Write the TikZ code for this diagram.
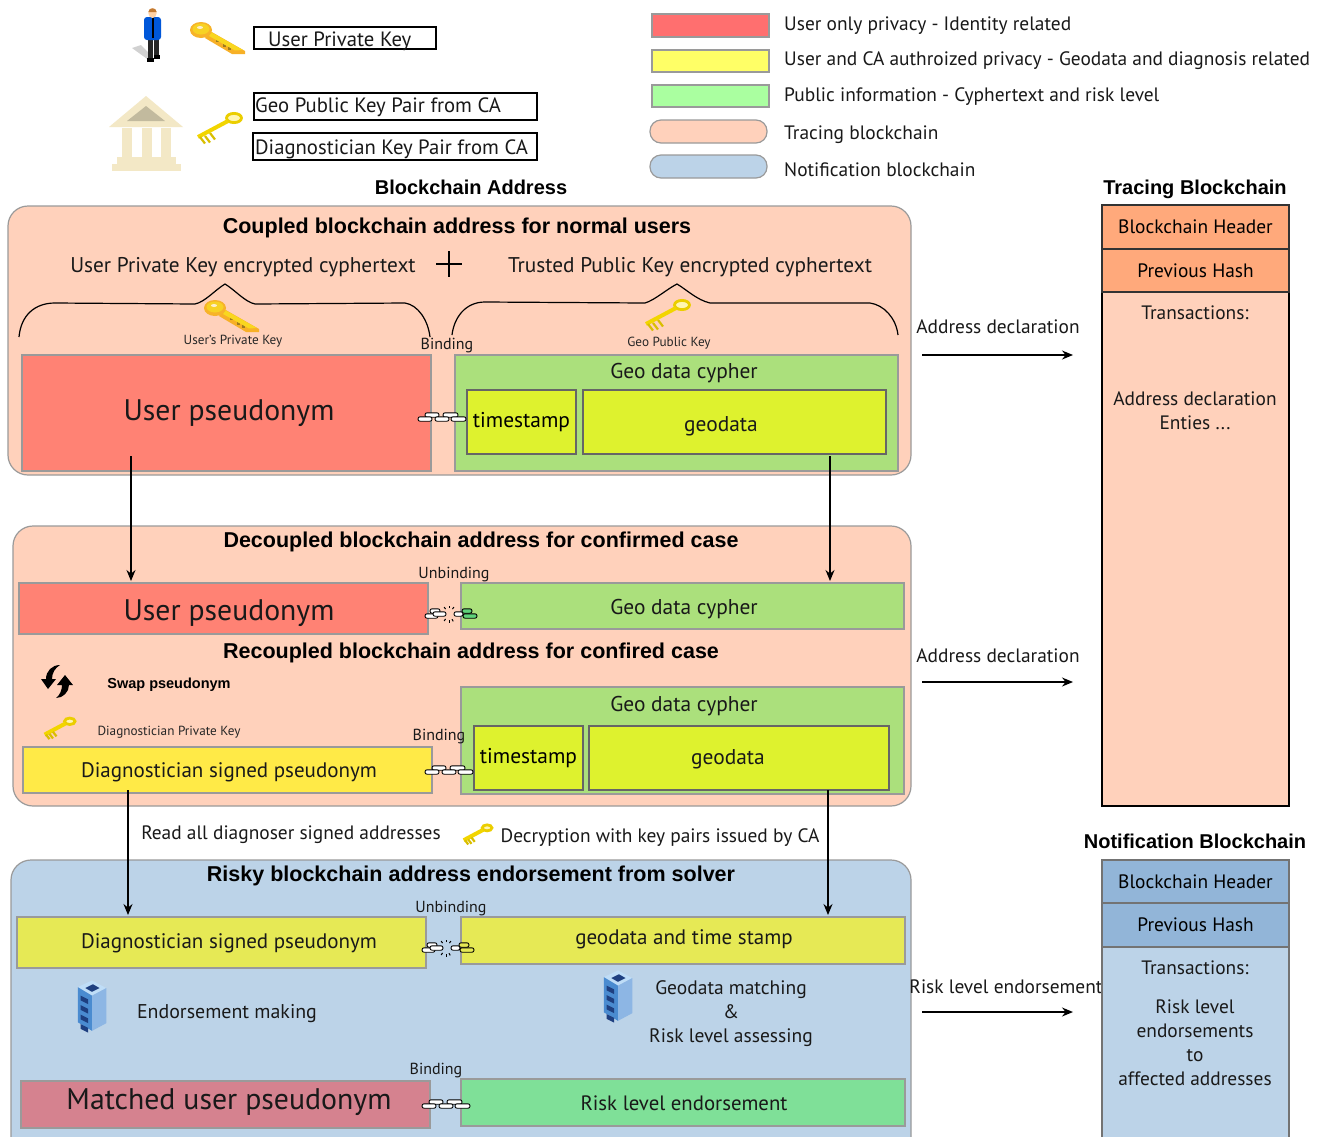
\documentclass[tikz,border=0pt]{standalone}
\usepackage{fontspec}
\setmainfont{PT Sans}
\newfontfamily\boldf{Liberation Sans Bold}
\usetikzlibrary{arrows.meta}
\definecolor{peach}{HTML}{FFD1BB}
\definecolor{panelblue}{HTML}{BCD3E8}
\definecolor{edgegray}{HTML}{9A9A9A}
\definecolor{redbox}{HTML}{FF8274}
\definecolor{greenbox}{HTML}{ABE07C}
\definecolor{limebox}{HTML}{DEF22E}
\definecolor{yellowbox}{HTML}{FFEA47}
\definecolor{paleolive}{HTML}{E6E955}
\definecolor{rose}{HTML}{D5828F}
\definecolor{mint}{HTML}{7FE098}
\definecolor{hdrorange}{HTML}{FFA97B}
\definecolor{hdrblue}{HTML}{92B5D8}
\definecolor{goldk}{HTML}{F5BC30}
\definecolor{yellowk}{HTML}{FFE000}
\definecolor{bankc}{HTML}{F3E8C6}
\definecolor{legred}{HTML}{FF6F6F}
\definecolor{legyellow}{HTML}{FFFF66}
\definecolor{leggreen}{HTML}{AAFFA0}
\definecolor{chaingreen}{HTML}{5FD27A}
\definecolor{srvtop}{HTML}{BFDDF7}
\definecolor{srvleft}{HTML}{4A8BD0}
\definecolor{srvright}{HTML}{8DB6E4}
\definecolor{srvdark}{HTML}{1E3F80}
\tikzset{
  fs/.style={font=\fontsize{#1}{24}\selectfont},
  txt/.style={inner sep=0pt,text=black!90,fs=19.4,align=center},
  ltxt/.style={txt,anchor=west,align=left},
  ttl/.style={inner sep=0pt,font=\fontsize{21.5}{26}\boldf,text=black},
  small/.style={inner sep=0pt,fs=13.2,text=black!85},
  panel/.style={draw=edgegray,line width=1.2pt,rounded corners=20pt},
  cell/.style={draw=edgegray,line width=1.5pt,inner sep=0pt,outer sep=0pt,anchor=north west,align=center,fs=21.4},
  legbox/.style={draw=edgegray,line width=1.2pt,inner sep=0pt,outer sep=0pt,anchor=north west},
  keybox/.style={draw=black,line width=1.5pt,inner sep=0pt,outer sep=0pt,anchor=north west},
  chainst/.style={rounded corners=2pt,draw=black,line width=.9pt},
  flow/.style={-{Stealth[length=11pt,width=9pt]},line width=1.3pt,black},
  brace/.style={line width=1.2pt,black},
  goldkey/.pic={
    \fill[goldk!80!orange] (-7,-7) -- (28,13) -- (28,16) -- (15,16) -- (-12,0) -- cycle;
    \fill[goldk!65!black] (-1,1) rectangle +(3,3);
    \fill[goldk!65!black] (6,6) rectangle +(3,3);
    \fill[goldk!65!black] (11,9) rectangle +(3,3);
    \fill[yellow!50!goldk] (-6,-6) -- (26,12) -- (18,12.5) -- (-8,-2) -- cycle;
    \fill[goldk!85!orange] (-16,-8) ellipse (11 and 8);
    \fill[yellow!40!goldk] (-16,-9) ellipse (8.5 and 5.5);
    \fill[white!75!goldk] (-17,-10.5) ellipse (3 and 1.5);
  },
  yellowkey/.pic={
    \draw[yellowk!92!black,line width=2.8pt,fill=yellowk!30!white] (14,-11) ellipse (7.5 and 4.6);
    \draw[yellowk!95!black,line width=4pt] (8,-8) -- (-22,8);
    \foreach \a/\b in {-20/8,-15/7,-10/4}{\draw[yellowk!85!black,line width=2.2pt] (\a,\b) -- ++(5,6.5);}
  },
  chainpic/.pic={
    \foreach \a/\b/\w in {-17/-2/14,1/-2/15}{
      \filldraw[chainst,fill=white] (\a,\b-2.2) rectangle +(\w,4.4);}
    \foreach \a/\b/\w in {-24/2/14,-7/2/14,9/2/15}{
      \filldraw[chainst,fill=white] (\a,\b-2.2) rectangle +(\w,4.4);}
  },
  pics/brokenchain/.style={code={
    \filldraw[chainst,fill=white] (-24,-0.2) rectangle +(13,4.4);
    \filldraw[chainst,fill=white] (-19,-5.2) rectangle +(10,4.4);
    \filldraw[chainst,fill=white] (-16,-2.2) rectangle +(13,4.4);
    \filldraw[chainst,fill=white] (5,-2.2) rectangle +(9,4.4);
    \filldraw[chainst,fill=#1] (13,-5.2) rectangle +(10,4.4);
    \filldraw[chainst,fill=#1] (14,-0.2) rectangle +(14,4.4);
    \foreach \a in {60,90,125,235,270,305}{
      \draw[black,line width=1pt] (\a:6) -- (\a:8.5);}
  }},
  server/.pic={
    \fill[srvtop] (-15,-22) -- (0,-29) -- (15,-21) -- (0,-13) -- cycle;
    \fill[srvdark] (-7,-21) -- (1,-25) -- (8,-21) -- (0,-17) -- cycle;
    \fill[srvleft] (-15,-22) -- (0,-13) -- (0,24) -- (-15,15) -- cycle;
    \fill[srvright] (0,-13) -- (15,-21) -- (15,16) -- (0,24) -- cycle;
    \foreach \k in {0,1,2,3}{\fill[srvdark] (-12,-13+\k*10) -- (-4,-9+\k*10) -- (-4,-4+\k*10) -- (-12,-8+\k*10) -- cycle;}
  }
}
\begin{document}
\begin{tikzpicture}[x=1pt,y=-1pt]
\useasboundingbox (0,0) rectangle (1324,1136);
\clip (0,0) rectangle (1324,1136);
\fill[white] (0,0) rectangle (1324,1136);

% --- person
\fill[black!18] (132,48) -- (141,45) -- (153,57) -- (150,61) -- cycle;
\fill[black!85] (148,38) rectangle (153,59);
\fill[black!85] (154,38) rectangle (159,57);
\fill[black] (147,58) rectangle (154,62);
\fill[black] (154,55) rectangle (160,59);
\fill[blue!60!cyan!85!black,rounded corners=3pt] (144,17) rectangle (161,40);
\draw[black,line width=1.2pt] (153,18) -- (153,38);
\fill[orange!35!white] (152.5,13) ellipse (4.2 and 5);
\fill[orange!70!black!80] (148.3,12) .. controls (148.5,7) and (156.5,7) .. (156.7,12) -- cycle;
\pic at (217,38) {goldkey};
% --- bank
\fill[bankc] (146,96) -- (183,127) -- (109,127) -- cycle;
\fill[black!20!bankc] (146,106) -- (165,121) -- (127,121) -- cycle;
\foreach \a in {122,142,161}{\fill[bankc] (\a,128) rectangle +(9.5,29);}
\fill[bankc] (117,157) rectangle (176,164);
\fill[bankc] (112,164) rectangle (181,171);
\pic at (220,129) {yellowkey};

\node[keybox,minimum width=182pt,minimum height=22pt] (kU) at (254,27) {};
\node[ltxt,fs=20.7] (kUt) at (268,41) {User Private Key};
\node[keybox,minimum width=283pt,minimum height=27pt] (kG) at (254,93) {};
\node[ltxt,fs=20.7] (kGt) at (255,107) {Geo Public Key Pair from CA};
\node[keybox,minimum width=284pt,minimum height=27pt] (kD) at (253,133) {};
\node[ltxt,fs=20.7] (kDt) at (255,149) {Diagnostician Key Pair from CA};

% --- colour legend
\node[legbox,fill=legred,minimum width=117pt,minimum height=23pt] (l1) at (652,14) {};
\node[legbox,fill=legyellow,minimum width=117pt,minimum height=22pt] (l2) at (652,50) {};
\node[legbox,fill=leggreen,minimum width=117pt,minimum height=22pt] (l3) at (652,85) {};
\node[legbox,fill=peach,rounded corners=11pt,minimum width=117pt,minimum height=23pt] (l4) at (650,120) {};
\node[legbox,fill=panelblue,rounded corners=11pt,minimum width=117pt,minimum height=23pt] (l5) at (650,155) {};
\node[ltxt] (t1) at (784,26) {User only privacy - Identity related};
\node[ltxt] (t2) at (784,61) {User and CA authroized privacy - Geodata and diagnosis related};
\node[ltxt] (t3) at (784,97) {Public information - Cyphertext and risk level};
\node[ltxt] (t4) at (784,135) {Tracing blockchain};
\node[ltxt] (t5) at (784,170) {Notification blockchain};

\node[ttl,font=\fontsize{20}{24}\boldf] (hA) at (471,187) {Blockchain Address};
\node[ttl,font=\fontsize{20}{24}\boldf] (hT) at (1195,189) {Tracing Blockchain};
\node[ttl,font=\fontsize{20}{24}\boldf] (hN) at (1195,841) {Notification Blockchain};

% --- panels
\draw[panel,fill=peach] (8,206) rectangle (911,475);
\draw[panel,fill=peach] (13,526) rectangle (911,806);
\draw[panel,fill=panelblue] (11,860) rectangle (911,1160);

% --- panel 1
\node[ttl] (p1) at (457,228) {Coupled blockchain address for normal users};
\node[txt,fs=21.3] (p1a) at (243,267) {User Private Key encrypted cyphertext};
\node[txt,fs=21.3] (p1b) at (690,267) {Trusted Public Key encrypted cyphertext};
\draw[line width=2.6pt,black] (436,264) -- (462,264) (449,251) -- (449,277);
\draw[brace] (19,337) .. controls (21,315) and (35,303) .. (55,303) -- (195,304) .. controls (205,302) and (215,290) .. (225,284) .. controls (235,290) and (245,302) .. (255,304) -- (405,303) .. controls (418,305) and (428,320) .. (430,337);
\draw[brace] (452,335) .. controls (454,318) and (465,302) .. (485,302) -- (645,303) .. controls (655,300) and (667,289) .. (677,284) .. controls (687,290) and (697,300) .. (710,303) -- (870,303) .. controls (884,305) and (896,318) .. (898,335);
\pic at (231,316) {goldkey};
\pic at (668,316) {yellowkey};
\node[small] (uk) at (233,341) {User's Private Key};
\node[small] (gk) at (669,343) {Geo Public Key};
\node[txt,fs=16] (b1) at (447,346) {Binding};

\node[cell,fill=redbox,minimum width=409pt,minimum height=116pt] (up1) at (22,355) {};
\node[txt,fs=29.7] (up1t) at (229,413) {User pseudonym};
\node[cell,fill=greenbox,minimum width=443pt,minimum height=116pt] (g1) at (455,355) {};
\node[txt,fs=21.4] (g1t) at (684,373) {Geo data cypher};
\node[cell,draw=black!60,fill=limebox,minimum width=109pt,minimum height=64pt] (ts1) at (467,390) {timestamp};
\node[cell,draw=black!60,fill=limebox,minimum width=303pt,minimum height=64pt] (geo1) at (583,390) {};
\node[txt,fs=21.4] (geo1t) at (721,426) {geodata};
\pic at (442,417) {chainpic};

% --- panel 2
\node[ttl] (p2) at (481,542) {Decoupled blockchain address for confirmed case};
\node[txt,fs=16] (ub1) at (454,575) {Unbinding};
\node[cell,fill=redbox,minimum width=409pt,minimum height=51pt] (up2) at (19,583) {};
\node[txt,fs=29.7] (up2t) at (229,613) {User pseudonym};
\node[cell,fill=greenbox,minimum width=443pt,minimum height=46pt] (g2) at (461,583) {};
\node[txt,fs=21.4] (g2t) at (684,609) {Geo data cypher};
\pic at (449,614) {brokenchain=chaingreen};
\node[ttl] (p3) at (471,653) {Recoupled blockchain address for confired case};
\fill[black] (41,679) -- (48,689) -- (56,679) -- (52,679) .. controls (52,673) and (55,668) .. (60,665) .. controls (52,665) and (46,671) .. (46,679) -- cycle;
\fill[black] (57,685) -- (65,675) -- (73,685) -- (69,685) .. controls (69,692) and (63,698) .. (56,698) .. controls (60,695) and (62,690) .. (62,685) -- cycle;
\node[ttl,font=\fontsize{14.5}{18}\boldf] (sw) at (169,685) {Swap pseudonym};
\pic[scale=.7] at (60,729) {yellowkey};
\node[small] (dk) at (169,732) {Diagnostician Private Key};
\node[cell,fill=greenbox,minimum width=443pt,minimum height=107pt] (g3) at (461,687) {};
\node[txt,fs=16] (b2) at (439,737) {Binding};
\node[txt,fs=21.4] (g3t) at (684,706) {Geo data cypher};
\node[cell,draw=black!60,fill=limebox,minimum width=109pt,minimum height=64pt] (ts2) at (474,726) {timestamp};
\node[cell,draw=black!60,fill=limebox,minimum width=300pt,minimum height=64pt] (geo2) at (589,726) {};
\node[txt,fs=21.4] (geo2t) at (728,759) {geodata};
\node[cell,fill=yellowbox,minimum width=409pt,minimum height=46pt] (ds1) at (23,747) {};
\node[txt,fs=21] (ds1t) at (229,772) {Diagnostician signed pseudonym};
\pic at (449,770) {chainpic};

% --- between
\node[txt] (rd) at (291,835) {Read all diagnoser signed addresses};
\pic[scale=.65] at (478,835) {yellowkey};
\node[txt] (dc) at (660,838) {Decryption with key pairs issued by CA};

% --- panel 3
\node[ttl] (p4) at (471,876) {Risky blockchain address endorsement from solver};
\node[txt,fs=16] (ub2) at (451,909) {Unbinding};
\node[cell,fill=paleolive,minimum width=409pt,minimum height=51pt] (ds2) at (17,917) {};
\node[txt,fs=21] (ds2t) at (229,943) {Diagnostician signed pseudonym};
\node[cell,fill=paleolive,minimum width=444pt,minimum height=47pt] (gt) at (461,917) {};
\node[txt,fs=21] (gtt) at (684,939) {geodata and time stamp};
\pic at (446,948) {brokenchain=paleolive};
\pic[scale=.95] at (92,1008) {server};
\node[txt,fs=19.9] (em) at (227,1014) {Endorsement making};
\pic[scale=.95] at (618,998) {server};
\node[txt,fs=19.5] (gm) at (731,1014) {Geodata matching\\\&\\Risk level assessing};
\node[txt,fs=16] (b3) at (436,1071) {Binding};
\node[cell,fill=rose,minimum width=409pt,minimum height=47pt] (mu) at (21,1081) {};
\node[txt,fs=29.8] (mut) at (229,1102) {Matched user pseudonym};
\node[cell,fill=mint,minimum width=444pt,minimum height=47pt] (re) at (461,1079) {};
\node[txt,fs=20.8] (ret) at (684,1103) {Risk level endorsement};
\pic at (446,1104) {chainpic};

% --- flows between panels
\coordinate (f1a) at (131,456); \coordinate (f1b) at (131,581);
\draw[flow] (f1a) -- (f1b);
\coordinate (f2a) at (830,456); \coordinate (f2b) at (830,581);
\draw[flow] (f2a) -- (f2b);
\coordinate (f3a) at (128,790); \coordinate (f3b) at (128,915);
\draw[flow] (f3a) -- (f3b);
\coordinate (f4a) at (828,790); \coordinate (f4b) at (828,915);
\draw[flow] (f4a) -- (f4b);

% --- side labels
\node[txt] (ad1) at (998,327) {Address declaration};
\coordinate (a1a) at (922,355); \coordinate (a1b) at (1073,355);
\draw[flow] (a1a) -- (a1b);
\node[txt] (ad2) at (998,656) {Address declaration};
\coordinate (a2a) at (922,682); \coordinate (a2b) at (1073,682);
\draw[flow] (a2a) -- (a2b);
\node[txt] (rl) at (1006,987) {Risk level endorsement};
\coordinate (a3a) at (922,1012); \coordinate (a3b) at (1073,1012);
\draw[flow] (a3a) -- (a3b);

% --- tracing chain
\node[keybox,fill=peach,minimum width=187pt,minimum height=601pt] (tc) at (1102,205) {};
\node[keybox,draw=black!80,fill=hdrorange,minimum width=187pt,minimum height=44pt,fs=19.4] (th) at (1102,205) {Blockchain Header};
\node[keybox,draw=black!80,fill=hdrorange,minimum width=187pt,minimum height=43pt,fs=19.4] (tp) at (1102,249) {Previous Hash};
\node[txt] (ttx) at (1195,313) {Transactions:};
\node[txt] (tad) at (1195,411) {Address declaration\\Enties ...};

% --- notification chain
\node[legbox,draw=black!55,fill=panelblue,minimum width=187pt,minimum height=300pt] (nc) at (1102,860) {};
\node[legbox,draw=black!55,fill=hdrblue,minimum width=187pt,minimum height=43pt,fs=19.4] (nh) at (1102,860) {Blockchain Header};
\node[legbox,draw=black!55,fill=hdrblue,minimum width=187pt,minimum height=44pt,fs=19.4] (np) at (1102,903) {Previous Hash};
\node[txt] (ntx) at (1195,968) {Transactions:};
\node[txt] (nrl) at (1195,1043) {Risk level\\endorsements\\to\\affected addresses};
\end{tikzpicture}
\end{document}
